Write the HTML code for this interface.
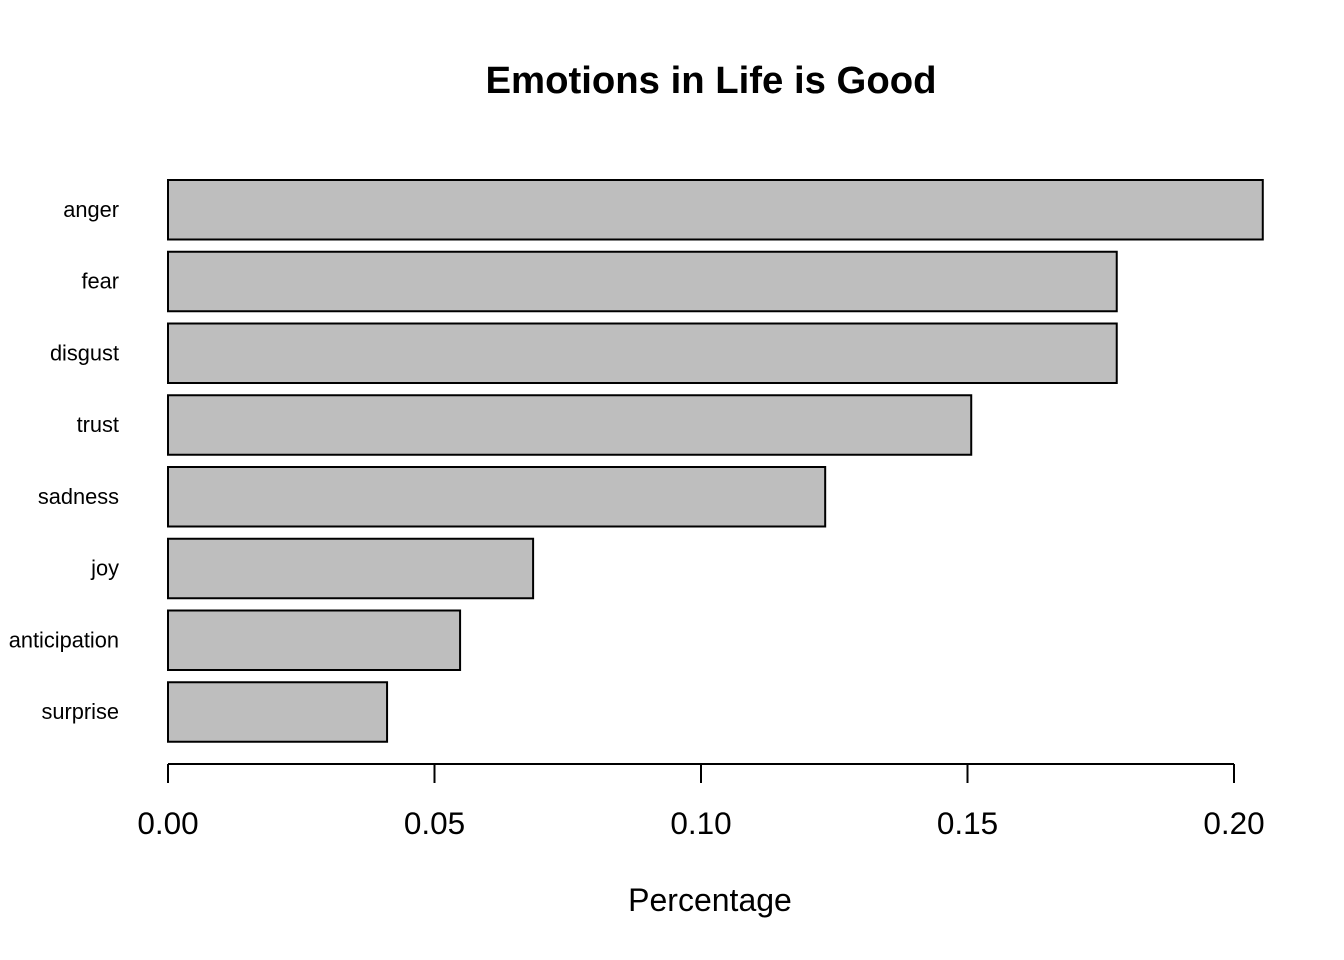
<!DOCTYPE html>
<html><head><meta charset="utf-8"><style>
html,body{margin:0;padding:0;background:#fff;}
svg{display:block;font-family:"Liberation Sans",Arial,sans-serif;}
</style></head><body>
<svg id="chart" width="1344" height="960" viewBox="0 0 1344 960" xmlns="http://www.w3.org/2000/svg">
<rect width="1344" height="960" fill="#fff"/>
<text x="711" y="93" text-anchor="middle" font-size="38.3" font-weight="bold">Emotions in Life is Good</text>
<text x="710" y="911" text-anchor="middle" font-size="32">Percentage</text>
<g id="bars"></g>
<g id="axis"></g>
</svg>
<script>
const categories = ["anger","fear","disgust","trust","sadness","joy","anticipation","surprise"];
const values = [0.2054,0.1780,0.1780,0.1507,0.1233,0.0685,0.0548,0.0411];
const tickValues = [0,0.05,0.10,0.15,0.20];
const tickLabels = ["0.00","0.05","0.10","0.15","0.20"];

const NS="http://www.w3.org/2000/svg";
const x0=168, x1=1234, xMax=0.20;
function xs(v){return x0+(x1-x0)*v/xMax;}
const barTop=180, step=71.75, barH=59.5;
function ys(i){return barTop+i*step;}
const bars=document.getElementById('bars');
categories.forEach((c,i)=>{
  const r=document.createElementNS(NS,'rect');
  r.setAttribute('x',xs(0));
  r.setAttribute('y',ys(i));
  r.setAttribute('width',xs(values[i])-xs(0));
  r.setAttribute('height',barH);
  r.setAttribute('fill','#bebebe');
  r.setAttribute('stroke','#000');
  r.setAttribute('stroke-width','2');
  
  
  bars.appendChild(r);
  const t=document.createElementNS(NS,'text');
  t.setAttribute('x',119);
  t.setAttribute('y',ys(i)+barH/2+7);
  t.setAttribute('text-anchor','end');
  t.setAttribute('font-size','21.8');
  t.textContent=c;
  
  
  bars.appendChild(t);
});
const axis=document.getElementById('axis');
const line=document.createElementNS(NS,'line');
line.setAttribute('x1',xs(tickValues[0]));line.setAttribute('x2',xs(tickValues[tickValues.length-1]));
line.setAttribute('y1',764);line.setAttribute('y2',764);
line.setAttribute('stroke','#000');line.setAttribute('stroke-width','2');


axis.appendChild(line);
tickValues.forEach((v,i)=>{
  const tk=document.createElementNS(NS,'line');
  tk.setAttribute('x1',xs(v));tk.setAttribute('x2',xs(v));
  tk.setAttribute('y1',764);tk.setAttribute('y2',783);
  tk.setAttribute('stroke','#000');tk.setAttribute('stroke-width','2');
  
  
  axis.appendChild(tk);
  const lb=document.createElementNS(NS,'text');
  lb.setAttribute('x',xs(v));lb.setAttribute('y',834);
  lb.setAttribute('text-anchor','middle');lb.setAttribute('font-size','31.5');
  lb.textContent=tickLabels[i];
  
  
  axis.appendChild(lb);
});
</script>
</body></html>
